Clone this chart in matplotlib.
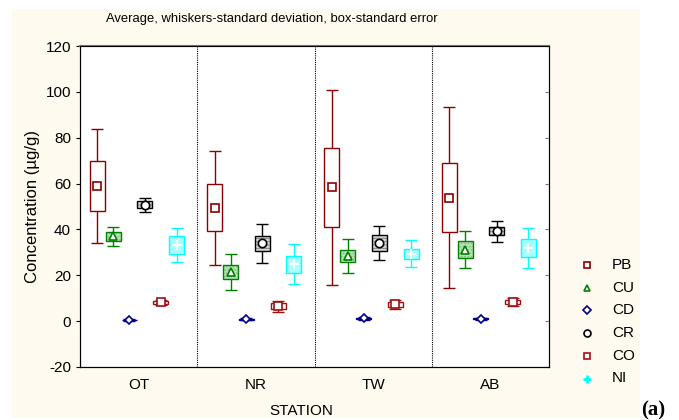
import numpy as np
import matplotlib.pyplot as plt
from matplotlib.lines import Line2D
from matplotlib.patches import Rectangle

plt.rcParams['font.family'] = ['Liberation Sans', 'DejaVu Sans']
plt.rcParams['axes.unicode_minus'] = False
plt.rcParams['hatch.linewidth'] = 0.6

# stations and metals
stations = ['OT', 'NR', 'TW', 'AB']
metals = ['PB', 'CU', 'CD', 'CR', 'CO', 'NI']

# averages, standard errors (box) and standard deviations (whiskers), per metal over stations
means = {
    'PB': [58.8, 49.4, 58.3, 53.9],
    'CU': [37.0, 21.4, 28.4, 31.1],
    'CD': [0.5, 0.9, 1.2, 1.0],
    'CR': [50.8, 33.9, 34.1, 39.2],
    'CO': [8.2, 6.5, 7.3, 8.4],
    'NI': [33.2, 24.8, 29.4, 31.9],
}
se = {
    'PB': [10.9, 10.2, 17.3, 15.1],
    'CU': [1.9, 3.1, 2.6, 3.7],
    'CD': [0.2, 0.2, 0.2, 0.2],
    'CR': [1.5, 3.4, 3.3, 1.8],
    'CO': [0.8, 1.3, 1.0, 0.9],
    'NI': [3.8, 3.6, 2.1, 3.9],
}
sd = {
    'PB': [24.9, 24.7, 42.6, 39.6],
    'CU': [4.2, 7.8, 7.5, 8.1],
    'CD': [0.4, 0.5, 0.5, 0.5],
    'CR': [3.0, 8.5, 7.6, 4.6],
    'CO': [1.2, 2.5, 1.9, 1.9],
    'NI': [7.6, 8.8, 6.0, 8.9],
}

# styles: edge colour, face colour, hatch, hatch colour, marker
styles = {
    'PB': ('#8b0000', 'white', None, None, 's'),
    'CU': ('#008000', '#b4deb4', '.....', '#7cbf7c', '^'),
    'CD': ('#00008b', 'white', None, None, 'D'),
    'CR': ('#000000', '#d4d4d4', '-----', '#7a7a7a', 'o'),
    'CO': ('#a01010', 'white', None, None, 's'),
    'NI': ('#00ffff', '#a8ffff', None, None, '+'),
}

cream = '#fffaf0'
fig = plt.figure(figsize=(6.79, 4.20), dpi=100)
fig.patches.append(Rectangle((12 / 679, 2 / 420), 628 / 679, 409 / 420,
                             transform=fig.transFigure, facecolor=cream,
                             edgecolor='none', zorder=-10))
ax = fig.add_axes([80 / 679, 53 / 420, 469 / 679, 321 / 420])

x = np.arange(len(stations))
step = 0.135
box_w = 0.128
for k, m in enumerate(metals):
    ec, fc, hatch, hc, mk = styles[m]
    xs = x + (k - 2.6) * step
    mu = np.array(means[m])
    e = np.array(se[m])
    s = np.array(sd[m])
    ax.errorbar(xs, mu, yerr=s, fmt='none', ecolor=ec, elinewidth=1,
                capsize=4, capthick=1, zorder=2)
    if hatch:
        ax.bar(xs, 2 * e, bottom=mu - e, width=box_w, facecolor=fc,
               edgecolor=hc, linewidth=0, hatch=hatch, zorder=3)
        ax.bar(xs, 2 * e, bottom=mu - e, width=box_w, facecolor='none',
               edgecolor=ec, linewidth=1, zorder=3.5)
    else:
        ax.bar(xs, 2 * e, bottom=mu - e, width=box_w, facecolor=fc,
               edgecolor=ec, linewidth=1, zorder=3)
    if m == 'NI':
        ax.plot(xs, mu, linestyle='none', marker=mk, color='white',
                markersize=7, markeredgewidth=1.5, zorder=4)
    else:
        ax.plot(xs, mu, linestyle='none', marker=mk, markerfacecolor='white',
                markeredgecolor=ec, markersize=6 if mk != 'D' else 4.5,
                markeredgewidth=1.2, zorder=4)

for b in [0.5, 1.5, 2.5]:
    ax.axvline(b, color='black', linestyle=(0, (1, 1)), linewidth=0.8, zorder=1)

ax.set_xlim(-0.5, 3.5)
ax.set_ylim(-20, 120)
ax.set_yticks(np.arange(-20, 121, 20))
ax.set_xticks(x)
ax.set_xticklabels(stations, fontsize=11)
ax.tick_params(axis='x', length=0, pad=8)
ax.tick_params(axis='y', direction='out', length=3, labelsize=11)
ax.spines['top'].set_color('#777777')
ax.spines['top'].set_linewidth(1.5)
ax.set_xlabel('STATION', fontsize=11, labelpad=6)
ax.xaxis.set_label_coords((301 - 80) / 469, -0.115)
ax.set_ylabel('Concentration (\u00b5g/g)', fontsize=12, labelpad=4)

ax2 = ax.twinx()
ax2.set_ylim(ax.get_ylim())
ax2.set_yticks(ax.get_yticks())
ax2.tick_params(axis='y', direction='in', length=3, labelright=False, color='#777777')

fig.text(272 / 679, 1 - 19 / 420, 'Average, whiskers-standard deviation, box-standard error',
         ha='center', va='center', fontsize=9.4)

# legend, drawn by hand at the right side
for i, m in enumerate(metals):
    ec, fc, hatch, hc, mk = styles[m]
    ly = 1 - (265 + i * 22.7) / 420
    if m == 'NI':
        h = Line2D([587 / 679], [ly], transform=fig.transFigure, linestyle='none',
                   marker='+', color=ec, markersize=6, markeredgewidth=2)
    else:
        h = Line2D([587 / 679], [ly], transform=fig.transFigure, linestyle='none',
                   marker=mk, markerfacecolor='white', markeredgecolor=ec,
                   markersize=5 if mk != 'D' else 4, markeredgewidth=1.2)
    fig.add_artist(h)
    fig.text(612 / 679, ly, m, fontsize=11, ha='left', va='center')

fig.text(641 / 679, 1 - 410 / 420, '(a)', fontsize=15, fontweight='bold',
         family='Liberation Serif', ha='left', va='center')

fig.savefig('out.png', dpi=100, facecolor='white')
